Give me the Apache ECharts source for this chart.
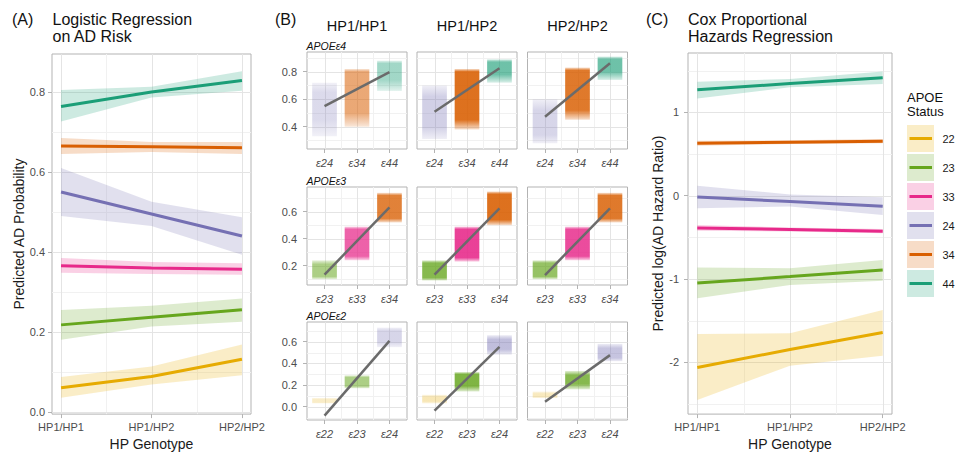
<!DOCTYPE html>
<html><head><meta charset="utf-8">
<script src="https://cdn.jsdelivr.net/npm/echarts@6/dist/echarts.min.js"></script>
<style>html,body{margin:0;padding:0;background:#fff}#c{width:955px;height:456px}</style>
</head><body><div id="c"></div>
<script>
// ---------- shared categories ----------
const hpGenotypes = ['HP1/HP1', 'HP1/HP2', 'HP2/HP2'];
const hpX = [1, 2, 3];
const apoeGroups = ['22', '23', '33', '24', '34', '44'];
const groupColors = ['#E6AB02', '#66A61E', '#E7298A', '#7570B3', '#D95F02', '#1B9E77'];

// ---------- Panel A: logistic regression (rows follow apoeGroups) ----------
const logitFit = [[0.061, 0.089, 0.132], [0.218, 0.237, 0.256], [0.366, 0.360, 0.357], [0.550, 0.495, 0.440], [0.665, 0.663, 0.661], [0.764, 0.800, 0.829]];
const logitLo  = [[0.036, 0.069, 0.092], [0.181, 0.214, 0.226], [0.348, 0.345, 0.343], [0.490, 0.465, 0.393], [0.645, 0.650, 0.645], [0.726, 0.786, 0.803]];
const logitHi  = [[0.088, 0.114, 0.169], [0.255, 0.266, 0.284], [0.385, 0.375, 0.372], [0.610, 0.526, 0.487], [0.685, 0.675, 0.675], [0.805, 0.813, 0.852]];
const ticksA = [0, 0.2, 0.4, 0.6, 0.8];
const minorA = [0.1, 0.3, 0.5, 0.7];

// ---------- Panel C: Cox regression ----------
const coxFit = [[-2.06, -1.845, -1.64], [-1.048, -0.97, -0.89], [-0.386, -0.405, -0.425], [-0.015, -0.07, -0.127], [0.630, 0.642, 0.654], [1.27, 1.345, 1.415]];
const coxLo  = [[-2.45, -2.04, -1.92], [-1.23, -1.07, -1.02], [-0.42, -0.43, -0.45], [-0.15, -0.13, -0.23], [0.600, 0.620, 0.630], [1.165, 1.30, 1.34]];
const coxHi  = [[-1.66, -1.65, -1.37], [-0.86, -0.87, -0.77], [-0.35, -0.38, -0.40], [0.12, 0.015, -0.02], [0.660, 0.665, 0.680], [1.368, 1.40, 1.49]];
const ticksC = [-2, -1, 0, 1];
const minorC = [-2.5, -1.5, -0.5, 0.5, 1.5];

// ---------- Panel B: facets (rows = APOE allele, cols = HP genotype) ----------
const rowTitles = ['APOE\u03b54', 'APOE\u03b53', 'APOE\u03b52'];
const rowGenotypes = [['\u03b524', '\u03b534', '\u03b544'], ['\u03b523', '\u03b533', '\u03b534'], ['\u03b522', '\u03b523', '\u03b524']];
const rowGroups = [['24', '34', '44'], ['23', '33', '34'], ['22', '23', '24']];
// per column, per genotype: [lowest point, dense low, dense high, highest point, point density]
const cloudE4 = [
  [[0.33, 0.45, 0.65, 0.72, 0.25], [0.40, 0.50, 0.80, 0.82, 0.60], [0.66, 0.74, 0.86, 0.88, 0.45]],
  [[0.31, 0.40, 0.62, 0.70, 0.35], [0.38, 0.45, 0.80, 0.82, 0.95], [0.72, 0.78, 0.87, 0.89, 0.70]],
  [[0.28, 0.34, 0.52, 0.60, 0.30], [0.45, 0.52, 0.81, 0.83, 0.90], [0.74, 0.80, 0.89, 0.91, 0.70]]
];
const cloudE3 = [
  [[0.10, 0.12, 0.21, 0.24, 0.60], [0.24, 0.27, 0.47, 0.49, 0.80], [0.52, 0.55, 0.72, 0.74, 0.85]],
  [[0.09, 0.11, 0.22, 0.24, 0.85], [0.23, 0.26, 0.47, 0.49, 0.95], [0.50, 0.54, 0.73, 0.75, 0.95]],
  [[0.10, 0.12, 0.22, 0.24, 0.75], [0.24, 0.27, 0.47, 0.49, 0.90], [0.52, 0.55, 0.72, 0.74, 0.90]]
];
const cloudE2 = [
  [[0.03, 0.04, 0.07, 0.08, 0.20], [0.17, 0.19, 0.27, 0.29, 0.60], [0.55, 0.60, 0.70, 0.73, 0.30]],
  [[0.03, 0.05, 0.09, 0.11, 0.30], [0.14, 0.19, 0.30, 0.32, 0.90], [0.48, 0.53, 0.62, 0.66, 0.50]],
  [[0.08, 0.09, 0.12, 0.14, 0.25], [0.16, 0.21, 0.29, 0.33, 0.85], [0.42, 0.45, 0.54, 0.58, 0.45]]
];
// regression line end points (at first and third genotype) per column
const trendE4 = [[0.550, 0.797], [0.509, 0.825], [0.473, 0.861]];
const trendE3 = [[0.134, 0.632], [0.134, 0.625], [0.131, 0.625]];
const trendE2 = [[-0.083, 0.608], [-0.037, 0.553], [0.046, 0.476]];
const ticksB = [[0.4, 0.6, 0.8], [0.2, 0.4, 0.6], [0, 0.2, 0.4, 0.6]];
const minorB = [[0.3, 0.5, 0.7, 0.9], [0.1, 0.3, 0.5, 0.7], [-0.1, 0.1, 0.3, 0.5, 0.7]];
const xMinor = [1.5, 2.5];

const clouds = [cloudE4, cloudE3, cloudE2];
const trends = [trendE4, trendE3, trendE2];

// ---------- layout ----------
const FONT = "'Liberation Sans', Arial, sans-serif";
const BORDER = '#B3B3B3';
const LABEL = '#4D4D4D';
const bLeft = [307, 417, 527.5], bTop = [52, 187, 322], bH = [97, 98, 98];
const bYRange = [[0.238, 0.943], [0.057, 0.783], [-0.123, 0.782]];

const grids = [], xAxes = [], yAxes = [], series = [];

function colorOf(g) { return groupColors[apoeGroups.indexOf(g)]; }
function rgba(hex, a) {
  const n = parseInt(hex.slice(1), 16);
  return 'rgba(' + (n >> 16) + ',' + ((n >> 8) & 255) + ',' + (n & 255) + ',' + a.toFixed(3) + ')';
}

function gridLines(gi, hMaj, hMin, vMaj, vMin) {
  const data = [];
  hMin.forEach(v => data.push([0, v, 0]));
  vMin.forEach(v => data.push([1, v, 0]));
  hMaj.forEach(v => data.push([0, v, 1]));
  vMaj.forEach(v => data.push([1, v, 1]));
  series.push({
    type: 'custom', xAxisIndex: gi, yAxisIndex: gi, silent: true, z: 0, data,
    renderItem(params, api) {
      const cs = params.coordSys;
      const o = api.value(0), v = api.value(1), maj = api.value(2);
      const style = { stroke: maj ? '#E4E4E4' : '#F1F1F1', lineWidth: 1 };
      if (o === 0) {
        const y = Math.round(api.coord([1, v])[1]) + 0.5;
        return { type: 'line', shape: { x1: cs.x, y1: y, x2: cs.x + cs.width, y2: y }, style };
      }
      const x = Math.round(api.coord([v, 0])[0]) + 0.5;
      return { type: 'line', shape: { x1: x, y1: cs.y, x2: x, y2: cs.y + cs.height }, style };
    }
  });
}

function ribbon(gi, lo, hi, color) {
  series.push({
    type: 'custom', xAxisIndex: gi, yAxisIndex: gi, silent: true, z: 1,
    data: hpX.map((x, i) => [x, lo[i], hi[i]]),
    renderItem(params, api) {
      if (params.dataIndexInside !== 0) return;
      const n = params.dataInsideLength, top = [], bot = [];
      for (let i = 0; i < n; i++) {
        top.push(api.coord([api.value(0, i), api.value(2, i)]));
        bot.push(api.coord([api.value(0, i), api.value(1, i)]));
      }
      return { type: 'polygon', shape: { points: top.concat(bot.reverse()) }, style: { fill: color, opacity: 0.22 } };
    }
  });
}

function fitLine(gi, name, vals, color) {
  series.push({
    type: 'line', name, xAxisIndex: gi, yAxisIndex: gi, z: 3, silent: true,
    data: hpX.map((x, i) => [x, vals[i]]), symbol: 'none',
    lineStyle: { color, width: 3 }
  });
}

function mainAxes(gi, yMin, yMax, yTicks, yFmt, yName, yGap, yMargin) {
  xAxes.push({
    type: 'value', gridIndex: gi, min: 0.9, max: 3.1,
    name: 'HP Genotype', nameLocation: 'middle', nameGap: 21,
    nameTextStyle: { fontSize: 14, color: '#1A1A1A', fontFamily: FONT },
    axisLine: { show: false, onZero: false }, splitLine: { show: false },
    axisTick: { show: true, length: 4, lineStyle: { color: BORDER }, customValues: hpX },
    axisLabel: { customValues: hpX, margin: 7, fontSize: 11, color: LABEL, fontFamily: FONT,
      formatter: v => hpGenotypes[hpX.indexOf(v)] || '' }
  });
  yAxes.push({
    type: 'value', gridIndex: gi, min: yMin, max: yMax,
    name: yName, nameLocation: 'middle', nameGap: yGap, nameRotate: 90,
    nameTextStyle: { fontSize: 14, color: '#1A1A1A', fontFamily: FONT },
    axisLine: { show: false, onZero: false }, splitLine: { show: false },
    axisTick: { show: true, length: 4, lineStyle: { color: BORDER }, customValues: yTicks },
    axisLabel: { customValues: yTicks, margin: yMargin, fontSize: 11, color: LABEL, fontFamily: FONT,
      formatter: yFmt }
  });
}

// Panel A (grid 0)
grids.push({ left: 52, top: 54, width: 199, height: 366, show: true, borderColor: BORDER, borderWidth: 1, backgroundColor: '#fff' });
mainAxes(0, -0.005, 0.895, ticksA, v => ticksA.indexOf(v) >= 0 ? v.toFixed(1) : '', 'Predicted AD Probability', 26, 7);
gridLines(0, ticksA, minorA, hpX, xMinor);
apoeGroups.forEach((g, k) => ribbon(0, logitLo[k], logitHi[k], groupColors[k]));
apoeGroups.forEach((g, k) => fitLine(0, g, logitFit[k], groupColors[k]));

// Panel B (grids 1..9)
for (let r = 0; r < 3; r++) {
  for (let c = 0; c < 3; c++) {
    const gi = grids.length;
    grids.push({ left: bLeft[c], top: bTop[r], width: 100, height: bH[r], show: true, borderColor: BORDER, borderWidth: 1, backgroundColor: '#fff' });
    xAxes.push({
      type: 'value', gridIndex: gi, min: 0.46, max: 3.54,
      axisLine: { show: false, onZero: false }, splitLine: { show: false },
      axisTick: { show: true, length: 4, lineStyle: { color: BORDER }, customValues: hpX },
      axisLabel: { customValues: hpX, margin: 8, fontSize: 11, color: LABEL, fontStyle: 'italic', fontFamily: FONT,
        formatter: v => rowGenotypes[r][hpX.indexOf(v)] || '' }
    });
    yAxes.push({
      type: 'value', gridIndex: gi, min: bYRange[r][0], max: bYRange[r][1],
      axisLine: { show: false, onZero: false }, splitLine: { show: false },
      axisTick: { show: c === 0, length: 4, lineStyle: { color: BORDER }, customValues: ticksB[r] },
      axisLabel: { show: c === 0, customValues: ticksB[r], margin: 10, fontSize: 11, color: LABEL, fontFamily: FONT,
        formatter: v => ticksB[r].indexOf(v) >= 0 ? v.toFixed(1) : '' }
    });
    gridLines(gi, ticksB[r], minorB[r], hpX, xMinor);
    series.push({
      type: 'custom', xAxisIndex: gi, yAxisIndex: gi, silent: true, z: 2,
      data: clouds[r][c].map((d, k) => [hpX[k], d[0], d[1], d[2], d[3], d[4]]),
      renderItem(params, api) {
        const x = api.value(0);
        const color = colorOf(rowGroups[r][hpX.indexOf(x)]);
        const lo = api.value(1), cLo = api.value(2), cHi = api.value(3), hi = api.value(4), dens = api.value(5);
        const p1 = api.coord([x - 0.38, hi]), p2 = api.coord([x + 0.38, lo]);
        const core = 0.12 + 0.82 * Math.pow(dens, 1.3);
        const edge = 0.06 + 0.15 * dens;
        const span = hi - lo;
        const fill = new echarts.graphic.LinearGradient(0, 0, 0, 1, [
          { offset: 0, color: rgba(color, edge) },
          { offset: (hi - cHi) / span, color: rgba(color, core) },
          { offset: (hi - cLo) / span, color: rgba(color, core) },
          { offset: 1, color: rgba(color, edge) }
        ]);
        return { type: 'rect', shape: { x: p1[0], y: p1[1], width: p2[0] - p1[0], height: p2[1] - p1[1] }, style: { fill } };
      }
    });
    series.push({
      type: 'line', xAxisIndex: gi, yAxisIndex: gi, z: 4, silent: true, symbol: 'none',
      data: [[hpX[0], trends[r][c][0]], [hpX[2], trends[r][c][1]]],
      lineStyle: { color: '#6B6B6B', width: 2.5 }
    });
  }
}

// Panel C (grid 10)
const gC = grids.length;
grids.push({ left: 688, top: 53, width: 204, height: 367, show: true, borderColor: BORDER, borderWidth: 1, backgroundColor: '#fff' });
mainAxes(gC, -2.62, 1.712, ticksC, v => ticksC.indexOf(v) >= 0 ? String(v) : '', 'Predicted log(AD Hazard Ratio)', 22, 9);
gridLines(gC, ticksC, minorC, hpX, xMinor);
apoeGroups.forEach((g, k) => ribbon(gC, coxLo[k], coxHi[k], groupColors[k]));
apoeGroups.forEach((g, k) => fitLine(gC, g, coxFit[k], groupColors[k]));

// ---------- texts & legend ----------
function txt(text, x, y, size, opts) {
  return Object.assign({ type: 'text', x, y, silent: true,
    style: Object.assign({ text, fill: '#111', fontSize: size, fontFamily: FONT, textAlign: 'left', textVerticalAlign: 'middle' }, (opts && opts.style) || {}) },
    opts && opts.el ? opts.el : {});
}
const graphics = [
  txt('(A)', 12, 19, 16), txt('Logistic Regression', 52.5, 19, 16), txt('on AD Risk', 52.5, 36, 16),
  txt('(B)', 275, 19, 16),
  txt('(C)', 646, 19, 16), txt('Cox Proportional', 688, 19, 16), txt('Hazards Regression', 688, 36, 16)
];
hpGenotypes.forEach((h, c) => graphics.push(txt(h, bLeft[c] + 50, 26, 14.5, { style: { textAlign: 'center' } })));
rowTitles.forEach((t, r) => graphics.push(txt(t, 306.5, bTop[r] - 6, 10.5, { style: { fontStyle: 'italic' } })));
graphics.push(txt('APOE', 907, 97, 13), txt('Status', 907, 111, 13));
apoeGroups.forEach((g, k) => {
  const y0 = 125 + 29 * k;
  graphics.push({ type: 'rect', silent: true, shape: { x: 907, y: y0, width: 27, height: 27 }, style: { fill: groupColors[k], opacity: 0.22 } });
  graphics.push({ type: 'line', silent: true, shape: { x1: 909.5, y1: y0 + 13.5, x2: 932, y2: y0 + 13.5 }, style: { stroke: groupColors[k], lineWidth: 3 } });
  graphics.push(txt(g, 942.5, y0 + 13.5, 11, { style: { fill: '#1A1A1A' } }));
});

const chart = echarts.init(document.getElementById('c'), null, { renderer: 'svg' });
chart.setOption({
  animation: false,
  backgroundColor: '#fff',
  textStyle: { fontFamily: FONT },
  grid: grids, xAxis: xAxes, yAxis: yAxes, series,
  graphic: { elements: graphics }
});
</script></body></html>
